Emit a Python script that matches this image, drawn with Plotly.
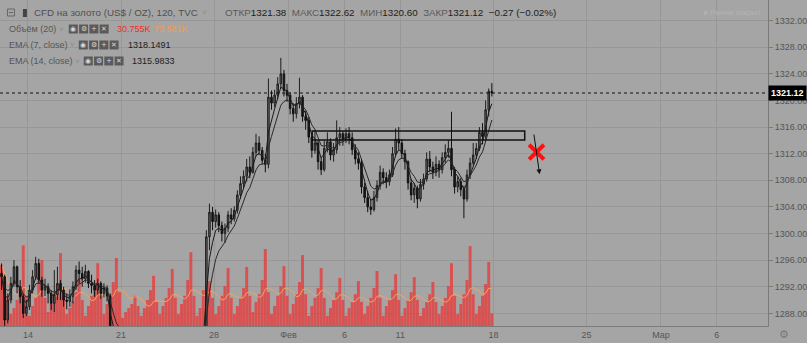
import plotly.graph_objects as go
import pandas as pd

# ---------------- data (4h bars) ----------------
close = [1293.5, 1287.0, 1290.0, 1292.5, 1295.0, 1292.0, 1290.5, 1288.0, 1289.0, 1291.5,
         1293.5, 1295.5, 1293.0, 1291.5, 1292.0, 1291.0, 1289.5, 1290.8, 1292.5, 1291.5,
         1290.0, 1289.8, 1290.5, 1292.0, 1294.5, 1294.0, 1293.2, 1294.3, 1292.5, 1292.2,
         1291.5, 1292.5, 1291.0, 1291.8, 1290.6, 1284.0, 1283.0, 1282.0, 1283.5, 1282.8,
         1281.5, 1282.2, 1283.4, 1282.6, 1281.8, 1282.4, 1283.0, 1281.6, 1280.9, 1281.4,
         1282.5, 1281.7, 1280.6, 1279.9, 1280.8, 1281.5, 1280.7, 1280.2, 1281.0, 1282.0,
         1281.3, 1281.8, 1283.0, 1284.2, 1283.5, 1285.0, 1299.5, 1303.2, 1301.8, 1302.8,
         1301.2, 1300.0, 1300.8, 1302.8, 1302.2, 1303.5, 1305.8, 1307.5, 1308.6, 1310.0,
         1309.2, 1312.2, 1313.6, 1312.5, 1311.0, 1310.4, 1320.5, 1319.6, 1320.8, 1322.5,
         1324.0, 1321.5, 1320.8, 1318.8, 1318.0, 1319.5, 1320.5, 1317.6, 1317.0, 1314.5,
         1312.5, 1313.6, 1310.8, 1309.6, 1312.8, 1313.8, 1311.8, 1312.6, 1314.4, 1315.0,
         1314.2, 1315.0, 1314.4, 1312.6, 1311.2, 1310.6, 1307.0, 1305.4, 1304.0, 1303.6,
         1305.4, 1307.2, 1309.2, 1308.4, 1307.8, 1308.8, 1312.0, 1314.2, 1313.6, 1312.0,
         1310.8, 1307.6, 1305.8, 1306.8, 1305.2, 1307.4, 1308.2, 1311.2, 1310.0, 1309.2,
         1310.4, 1309.6, 1311.4, 1312.2, 1312.8, 1309.6, 1307.0, 1307.8, 1306.6, 1305.2,
         1308.8, 1310.6, 1311.8, 1312.8, 1315.2, 1314.6, 1318.6, 1321.38, 1321.12]
high = [1295.5, 1293.8, 1291.0, 1293.5, 1296.0, 1295.2, 1293.0, 1291.0, 1290.0, 1292.3,
        1294.5, 1296.5, 1296.2, 1293.5, 1293.2, 1292.5, 1291.5, 1294.5, 1295.0, 1293.0,
        1292.0, 1291.0, 1291.6, 1292.8, 1295.2, 1295.8, 1295.0, 1295.3, 1294.5, 1293.8,
        1293.0, 1293.2, 1292.8, 1292.5, 1292.2, 1291.0, 1284.5, 1283.5, 1284.3, 1284.0,
        1283.2, 1283.0, 1284.2, 1284.0, 1283.0, 1283.1, 1283.9, 1283.2, 1282.0, 1282.3,
        1283.0, 1283.0, 1282.0, 1281.0, 1281.4, 1282.2, 1281.9, 1281.2, 1281.6, 1282.6,
        1282.4, 1282.5, 1283.8, 1285.0, 1285.1, 1285.8, 1300.5, 1304.5, 1304.0, 1303.6,
        1303.2, 1301.8, 1301.5, 1303.4, 1303.8, 1304.1, 1306.5, 1308.6, 1309.5, 1311.2,
        1311.6, 1313.0, 1315.0, 1314.6, 1313.0, 1312.0, 1323.3, 1321.5, 1321.6, 1323.5,
        1326.4, 1324.6, 1322.5, 1321.2, 1319.6, 1320.5, 1323.4, 1320.8, 1318.4, 1317.5,
        1315.0, 1315.6, 1314.0, 1311.5, 1314.0, 1315.2, 1314.3, 1313.6, 1317.0, 1316.0,
        1315.4, 1315.8, 1316.0, 1315.2, 1313.4, 1312.2, 1311.2, 1307.6, 1306.4, 1305.2,
        1306.4, 1308.0, 1310.2, 1309.8, 1309.2, 1309.6, 1313.0, 1315.8, 1316.0, 1314.2,
        1312.6, 1311.0, 1308.2, 1307.6, 1307.2, 1308.2, 1309.0, 1312.2, 1312.4, 1310.8,
        1311.6, 1311.0, 1312.2, 1313.4, 1314.0, 1318.3, 1310.0, 1308.6, 1308.4, 1307.2,
        1309.6, 1311.4, 1313.6, 1313.6, 1316.0, 1316.6, 1320.0, 1321.8, 1322.62]
low = [1291.5, 1286.0, 1286.5, 1289.5, 1292.0, 1291.0, 1289.5, 1287.3, 1287.6, 1288.5,
       1291.0, 1293.0, 1292.5, 1290.5, 1290.6, 1289.5, 1288.5, 1288.2, 1290.0, 1290.0,
       1289.0, 1288.6, 1289.0, 1289.5, 1291.5, 1292.5, 1292.0, 1292.6, 1291.8, 1291.0,
       1290.5, 1290.8, 1290.2, 1290.4, 1289.8, 1283.0, 1281.5, 1280.8, 1281.5, 1282.0,
       1280.6, 1280.9, 1281.8, 1282.0, 1281.0, 1281.2, 1281.9, 1280.8, 1279.9, 1280.2,
       1280.9, 1281.0, 1279.8, 1279.2, 1279.5, 1280.3, 1279.9, 1279.4, 1279.8, 1280.6,
       1280.8, 1280.9, 1281.4, 1282.6, 1282.8, 1283.2, 1284.5, 1297.5, 1300.5, 1300.9,
       1300.2, 1298.8, 1298.6, 1300.2, 1301.4, 1301.8, 1303.0, 1305.2, 1306.8, 1307.8,
       1308.3, 1309.0, 1311.6, 1311.8, 1310.4, 1309.2, 1309.8, 1318.6, 1319.0, 1320.2,
       1321.8, 1320.6, 1319.8, 1317.9, 1316.8, 1317.3, 1318.8, 1316.8, 1315.6, 1313.6,
       1311.4, 1312.0, 1309.6, 1308.8, 1309.3, 1312.2, 1311.0, 1310.8, 1312.0, 1313.2,
       1313.2, 1313.6, 1313.4, 1311.8, 1310.4, 1309.6, 1306.0, 1304.6, 1303.2, 1302.8,
       1303.3, 1304.8, 1306.6, 1307.4, 1306.8, 1307.2, 1308.5, 1311.6, 1312.6, 1311.2,
       1309.6, 1306.6, 1305.0, 1304.6, 1303.8, 1304.8, 1306.6, 1307.8, 1309.2, 1308.2,
       1308.6, 1308.4, 1309.0, 1310.6, 1311.4, 1308.6, 1306.0, 1306.2, 1305.6, 1302.3,
       1304.8, 1308.2, 1310.2, 1311.2, 1312.4, 1313.4, 1314.2, 1317.6, 1320.60]
volume_k = [150, 110, 70,
            29, 44, 64, 98, 198, 74,
            25, 49, 69, 110, 162, 69,
            34, 54, 74, 103, 179, 78,
            29, 44, 61, 83, 113, 64,
            25, 49, 74, 98, 154, 74,
            29, 54, 78, 108, 167, 83,
            20, 34, 44, 54, 74, 49,
            25, 44, 64, 88, 123, 59,
            29, 49, 69, 93, 140, 69,
            29, 54, 74, 113, 181, 74,
            25, 44, 88, 74, 110, 69,
            29, 49, 74, 98, 142, 69,
            29, 49, 69, 93, 145, 74,
            34, 59, 78, 113, 189, 83,
            29, 49, 74, 98, 147, 74,
            29, 54, 78, 108, 174, 78,
            25, 49, 69, 93, 142, 69,
            25, 44, 64, 83, 118, 64,
            25, 44, 59, 78, 110, 59,
            29, 49, 69, 93, 135, 69,
            25, 49, 64, 88, 127, 64,
            25, 44, 64, 83, 120, 64,
            25, 44, 59, 78, 108, 59,
            29, 49, 69, 98, 154, 74,
            29, 54, 78, 113, 196, 78,
            29, 49, 74, 103, 157, 30.755]

first_open = 1294.0
tick_pos = [8.5, 38.5, 68.5, 92.5, 110.5, 128.5, 158.5, 188.5, 212.5, 230.5]
tick_text = ["14", "21", "28", "Фев", "6", "11", "18", "25", "Мар", "6"]
price_ticks = [1288, 1292, 1296, 1300, 1304, 1308, 1312, 1316, 1320, 1324, 1328, 1332]
last_price = 1321.12
zone_low, zone_high = 1314.06, 1315.42
zone_x0, zone_x1 = 100.1, 168.6

# ---------------- derived ----------------
n = len(close)
x = list(range(n))
opens = [first_open] + close[:-1]
opens[-1] = 1321.38
hi = [max(h, o, c) for h, o, c in zip(high, opens, close)]
lo = [min(l, o, c) for l, o, c in zip(low, opens, close)]
cs = pd.Series(close)
# EMA(7) / EMA(14) of 2h bars expressed on 4h bars
ema7 = cs.ewm(alpha=1 - (1 - 2 / 8) ** 2, adjust=False).mean()
ema14 = cs.ewm(alpha=1 - (1 - 2 / 15) ** 2, adjust=False).mean()
vol_ma = pd.Series(volume_k).rolling(10, min_periods=1).mean()

W, H = 807, 343
MR, MB = 37, 17
PW, PH = W - MR, H - MB
BG = "#a5a5a5"
FONT = "Liberation Sans, Arial, sans-serif"


def PX(v):
    return v / PW


def PY(v):
    return 1 - v / PH


fig = go.Figure()
fig.add_trace(go.Bar(x=x, y=volume_k, marker=dict(color="rgba(228,62,62,0.82)", line=dict(width=0)),
                     yaxis="y", hoverinfo="skip"))
fig.add_trace(go.Scatter(x=x, y=vol_ma, mode="lines", line=dict(color="#f3a462", width=1),
                         yaxis="y", hoverinfo="skip"))
fig.add_trace(go.Candlestick(x=x, open=opens, high=hi, low=lo, close=close, yaxis="y2",
                             increasing=dict(line=dict(color="#1e1e1e", width=1), fillcolor="#686868"),
                             decreasing=dict(line=dict(color="#111111", width=1), fillcolor="#1a1a1a"),
                             whiskerwidth=0))
fig.add_trace(go.Scatter(x=x, y=ema7, mode="lines", line=dict(color="#1a1a1a", width=1), yaxis="y2"))
fig.add_trace(go.Scatter(x=x, y=ema14, mode="lines", line=dict(color="#2a2a2a", width=1), yaxis="y2"))

shapes = []
# last price dotted line
shapes.append(dict(type="line", xref="paper", x0=0, x1=1, yref="y2", y0=last_price, y1=last_price,
                   line=dict(color="#111", width=1, dash="dot")))
# zone rectangle
shapes.append(dict(type="rect", xref="x", yref="y2", x0=zone_x0, x1=zone_x1, y0=zone_low, y1=zone_high,
                   line=dict(color="#111", width=1.5)))
# red cross
cx, cy = 172.4, 1312.25
for dx in (-1, 1):
    shapes.append(dict(type="line", xref="x", yref="y2", x0=cx - 2.4, x1=cx + 2.4,
                       y0=cy - 1.1 * dx, y1=cy + 1.1 * dx, line=dict(color="#ff1010", width=4)))

annotations = []


def txt(xp, yp, s, color="#4a4a4a", size=10, anchor="left", bold=False):
    if bold:
        s = "<b>" + s + "</b>"
    annotations.append(dict(xref="paper", yref="paper", x=PX(xp), y=PY(yp), text=s, showarrow=False,
                            xanchor=anchor, yanchor="middle", font=dict(family=FONT, size=size, color=color)))


def icons(x0, yc):
    glyphs = ["◉", "⚙", "+", "✕"]
    for k, g in enumerate(glyphs):
        xa = x0 + k * 10.3
        shapes.append(dict(type="rect", xref="paper", yref="paper", x0=PX(xa), x1=PX(xa + 9),
                           y0=PY(yc + 4.5), y1=PY(yc - 4.5), fillcolor="#5a5a5a", line=dict(width=0)))
        annotations.append(dict(xref="paper", yref="paper", x=PX(xa + 4.5), y=PY(yc), text=g,
                                showarrow=False, xanchor="center", yanchor="middle",
                                font=dict(family="DejaVu Sans", size=7, color="#d8d8d8")))


# header line 1
shapes.append(dict(type="rect", xref="paper", yref="paper", x0=PX(7.5), x1=PX(14.5), y0=PY(16), y1=PY(9),
                   line=dict(color="#666", width=1)))
shapes.append(dict(type="line", xref="paper", yref="paper", x0=PX(9), x1=PX(13), y0=PY(12.5), y1=PY(12.5),
                   line=dict(color="#666", width=1)))
shapes.append(dict(type="rect", xref="paper", yref="paper", x0=PX(23), x1=PX(27), y0=PY(17), y1=PY(9),
                   fillcolor="#444", line=dict(width=0)))
txt(32, 12.5, "CFD на золото (US$ / OZ), 120, TVC", "#505050", 9.8)
txt(201, 12.5, "˅", "#8a8a8a", 8)
txt(224, 12.5, "<span style='color:#5a5a5a'>ОТКР</span><span style='color:#202020'>1321.38</span>"
    "&nbsp;&nbsp;<span style='color:#5a5a5a'>МАКС</span><span style='color:#202020'>1322.62</span>"
    "&nbsp;&nbsp;<span style='color:#5a5a5a'>МИН</span><span style='color:#202020'>1320.60</span>"
    "&nbsp;&nbsp;<span style='color:#5a5a5a'>ЗАКР</span><span style='color:#202020'>1321.12</span>"
    "&nbsp;&nbsp;<span style='color:#202020'>−0.27 (−0.02%)</span>", "#202020", 9.8)
# header line 2-4
txt(7, 29, "Объём (20)", "#555", 9)
txt(57, 29, "˅", "#8a8a8a", 8)
icons(69, 29)
txt(115, 29, "30.755K", "#e8302c", 9)
txt(152, 29, "73.581K", "#f39a55", 9)
txt(7, 45, "EMA (7, close)", "#555", 9)
txt(68, 45, "˅", "#8a8a8a", 8)
icons(79, 45)
txt(126, 45, "1318.1491", "#202020", 9)
txt(7, 61, "EMA (14, close)", "#555", 9)
txt(73, 61, "˅", "#8a8a8a", 8)
icons(84, 61)
txt(130, 61, "1315.9833", "#202020", 9)
# market closed watermark
txt(766, 12, "● Рынок закрыт", "#b3b3b3", 8, anchor="right")
# gear bottom right
txt(786, 334, "⚙", "#7a7a7a", 11, anchor="center")
# last price label
annotations.append(dict(xref="paper", yref="y2", x=1.0, y=last_price, text="<b>1321.12</b>", showarrow=False,
                        xanchor="left", yanchor="middle", bgcolor="#000000", borderpad=2,
                        font=dict(family=FONT, size=9, color="#ffffff")))
# arrow
annotations.append(dict(xref="x", yref="y2", axref="x", ayref="y2", x=173.4, y=1308.9, ax=171.5, ay=1315.1,
                        text="", showarrow=True, arrowhead=2, arrowsize=1, arrowwidth=1, arrowcolor="#111"))

fig.update_layout(
    width=W, height=H, margin=dict(l=0, r=MR, t=0, b=MB),
    paper_bgcolor=BG, plot_bgcolor=BG, showlegend=False, bargap=0.05,
    shapes=shapes, annotations=annotations,
    xaxis=dict(range=[-0.5, 247.0], tickmode="array", tickvals=tick_pos, ticktext=tick_text,
               showgrid=True, gridcolor="#979797", gridwidth=1, zeroline=False,
               showline=True, linecolor="#7a7a7a", linewidth=1, ticks="", ticklen=0,
               tickfont=dict(family=FONT, size=9, color="#555"), rangeslider=dict(visible=False)),
    yaxis=dict(range=[0, 800], visible=False, showgrid=False, zeroline=False),
    yaxis2=dict(range=[1286.1, 1335.1], overlaying="y", side="right", tickmode="array",
                tickvals=price_ticks, ticktext=[f"{v:.2f}" for v in price_ticks],
                showgrid=True, gridcolor="#979797", gridwidth=1, zeroline=False,
                showline=True, linecolor="#7a7a7a", linewidth=1, ticks="outside", ticklen=4,
                tickcolor="#7a7a7a", tickfont=dict(family=FONT, size=9, color="#555")),
)

fig.write_html("out.html")
